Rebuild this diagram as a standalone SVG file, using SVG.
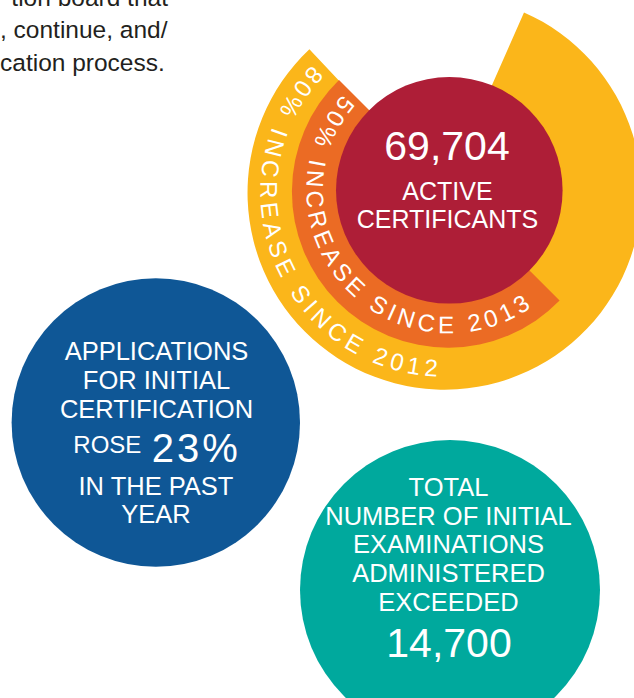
<svg xmlns="http://www.w3.org/2000/svg" width="634" height="698" viewBox="0 0 634 698">
<style>
text{font-family:"Liberation Sans",Arial,Helvetica,sans-serif;}
.w{fill:#fff;}
.c{text-anchor:middle;}
.body{font-size:25.5px;}
.big{font-size:41px;}
.arc{font-size:24px;fill:#fff;}
.para{font-size:24.5px;fill:#231f20;}
</style>
<defs>
<path id="p80" d="M 312.1 64.9 A 184 184 0 1 0 603.8 284.7"/>
<path id="p50" d="M 343.0 94.6 A 143 143 0 1 0 592.3 190.3"/>
</defs>
<g id="paragraph">
<text class="para" x="168" y="6" text-anchor="end">tion board that</text>
<text class="para" x="0" y="38">, continue, and/</text>
<text class="para" x="0" y="71">cation process.</text>
</g>
<g id="ring80">
<path d="M 444.5 192.7 L 309.4 49.3 A 197 197 0 1 0 524.0 12.4 Z" fill="#fbb61a"/>
</g>
<g id="ring50">
<path d="M 449.3 190.3 L 339 80 A 156 156 0 1 0 559.6 300.6 Z" fill="#eb6b24"/>
</g>
<g id="active">
<circle cx="449.3" cy="190.3" r="113.3" fill="#ae1e37"/>
<text class="w c big" x="447" y="160">69,704</text>
<text class="w c" font-size="25" x="447.5" y="200">ACTIVE</text>
<text class="w c" font-size="25" x="447.5" y="228">CERTIFICANTS</text>
</g>
<g id="ring80-label">
<text class="arc" letter-spacing="4.8"><textPath href="#p80">80% INCREASE SINCE 2012</textPath></text>
</g>
<g id="ring50-label">
<text class="arc" letter-spacing="4.5"><textPath href="#p50">50% INCREASE SINCE 2013</textPath></text>
</g>
<g id="applications">
<circle cx="155.8" cy="422.5" r="144.2" fill="#0f5796"/>
<text class="w c body" x="156.5" y="360">APPLICATIONS</text>
<text class="w c body" x="156.5" y="389">FOR INITIAL</text>
<text class="w c body" x="156.5" y="418">CERTIFICATION</text>
<text class="w" font-size="24" x="73.3" y="453.3">ROSE</text>
<text class="w" font-size="40" letter-spacing="3" x="151.7" y="461.5">23%</text>
<text class="w c body" x="156" y="495">IN THE PAST</text>
<text class="w c body" x="156" y="523.3">YEAR</text>
</g>
<g id="examinations">
<circle cx="450" cy="590" r="150" fill="#00a99d"/>
<text class="w c body" x="448.5" y="496">TOTAL</text>
<text class="w c body" x="448.5" y="525">NUMBER OF INITIAL</text>
<text class="w c body" x="448.5" y="553.3">EXAMINATIONS</text>
<text class="w c body" x="448.5" y="581.7">ADMINISTERED</text>
<text class="w c body" x="448.5" y="610.7">EXCEEDED</text>
<text class="w c big" x="449" y="656.7">14,700</text>
</g>
<g id="connectors"></g>
</svg>
